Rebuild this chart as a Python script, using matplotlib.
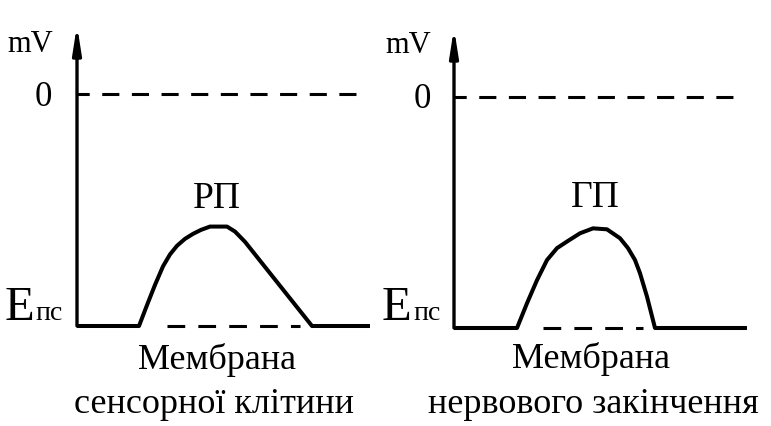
import numpy as np
import matplotlib
matplotlib.use("Agg")
import matplotlib.pyplot as plt

plt.rcParams["font.family"] = ["Liberation Serif", "DejaVu Serif"]

W, H = 771, 426

# receptor potential (sensory cell membrane): time (arb. units), potential (mV)
rp_t = [0.0, 6.2, 7.0, 7.8, 8.6, 9.3, 10.0, 10.8, 11.6, 12.4, 13.3, 15.0, 15.8,
        16.8, 23.5, 29.3]
rp_v = [-70, -70, -63.7, -57.6, -52.0, -48.4, -45.8, -43.7, -42.2, -41.0, -40.0,
        -40.0, -41.5, -44.6, -70, -70]

# generator potential (nerve ending membrane)
gp_t = [0.0, 6.3, 7.3, 8.3, 9.3, 10.3, 11.3, 12.6, 13.9, 15.3, 16.6, 17.4,
        18.1, 18.6, 19.3, 20.1, 29.3]
gp_v = [-70, -70, -62.5, -55.5, -49.4, -45.8, -43.8, -41.3, -39.8, -40.1, -42.8,
        -45.8, -49.4, -53.4, -60.5, -70, -70]

rest_mv = -70
zero_mv = 0
zero_line_end = 28.2
rp_rest_dash = [9.0, 22.3]
gp_rest_dash = [8.9, 18.9]

panels = [
    # box: left px, right px, baseline px, arrow tip px, zero px
    dict(t=rp_t, v=rp_v, dash=rp_rest_dash, box=(77, 372, 326, 25, 94),
         name="РП", name_pos=(217, 208),
         label=["Мембрана", "сенсорної клітини"], label_x=(217, 214), label_y=(369, 413),
         mv=(30, 52), zero=(43, 106), e=(19, 320), ps=(49, 320)),
    dict(t=gp_t, v=gp_v, dash=gp_rest_dash, box=(454, 750, 328, 28, 97),
         name="ГП", name_pos=(595, 207),
         label=["Мембрана", "нервового закінчення"], label_x=(591, 593), label_y=(368, 413),
         mv=(408, 53), zero=(422, 108), e=(396, 320), ps=(427, 320)),
]

fig = plt.figure(figsize=(W / 100, H / 100), dpi=100)


def ftext(x, y, s, **kw):
    fig.text(x / W, 1 - y / H, s, **kw)


lw = 2.4
for p in panels:
    x0, x1, yb, yt, yz = p["box"]
    ax = fig.add_axes([x0 / W, 1 - yb / H, (x1 - x0) / W, (yb - yt) / H])
    scale = (yb - yz) / (zero_mv - rest_mv)
    ax.set_xlim(0, (x1 - x0) / 10)
    ax.set_ylim(rest_mv, rest_mv + (yb - yt) / scale)
    ax.axis("off")

    ax.plot(p["t"], p["v"], color="black", lw=2.9, clip_on=False,
            solid_joinstyle="round", solid_capstyle="butt")
    ax.plot(p["dash"], [rest_mv, rest_mv], color="black", lw=2.2,
            linestyle=(0, (5.8, 4.3)), clip_on=False)
    ax.plot([0, zero_line_end], [zero_mv, zero_mv], color="black", lw=2.2,
            linestyle=(1.6, (5.6, 4.1)), dash_capstyle="butt", clip_on=False)

    ax.annotate("", xy=(0, 1), xytext=(0, 0), xycoords="axes fraction",
                arrowprops=dict(arrowstyle="-|>,head_length=1.6,head_width=0.25",
                                lw=lw, color="black", mutation_scale=10,
                                shrinkA=0, shrinkB=0),
                annotation_clip=False)

    ftext(*p["mv"], "mV", fontsize=22, ha="center", va="baseline")
    ftext(*p["zero"], "0", fontsize=25, ha="center", va="baseline")
    ftext(*p["e"], "E", fontsize=35, ha="center", va="baseline")
    ftext(*p["ps"], "пс", fontsize=20, ha="center", va="baseline")
    ftext(*p["name_pos"], p["name"], fontsize=27, ha="center", va="baseline")
    for s, lx, ly in zip(p["label"], p["label_x"], p["label_y"]):
        ftext(lx, ly, s, fontsize=26, ha="center", va="baseline")

fig.savefig("out.png", dpi=100)
